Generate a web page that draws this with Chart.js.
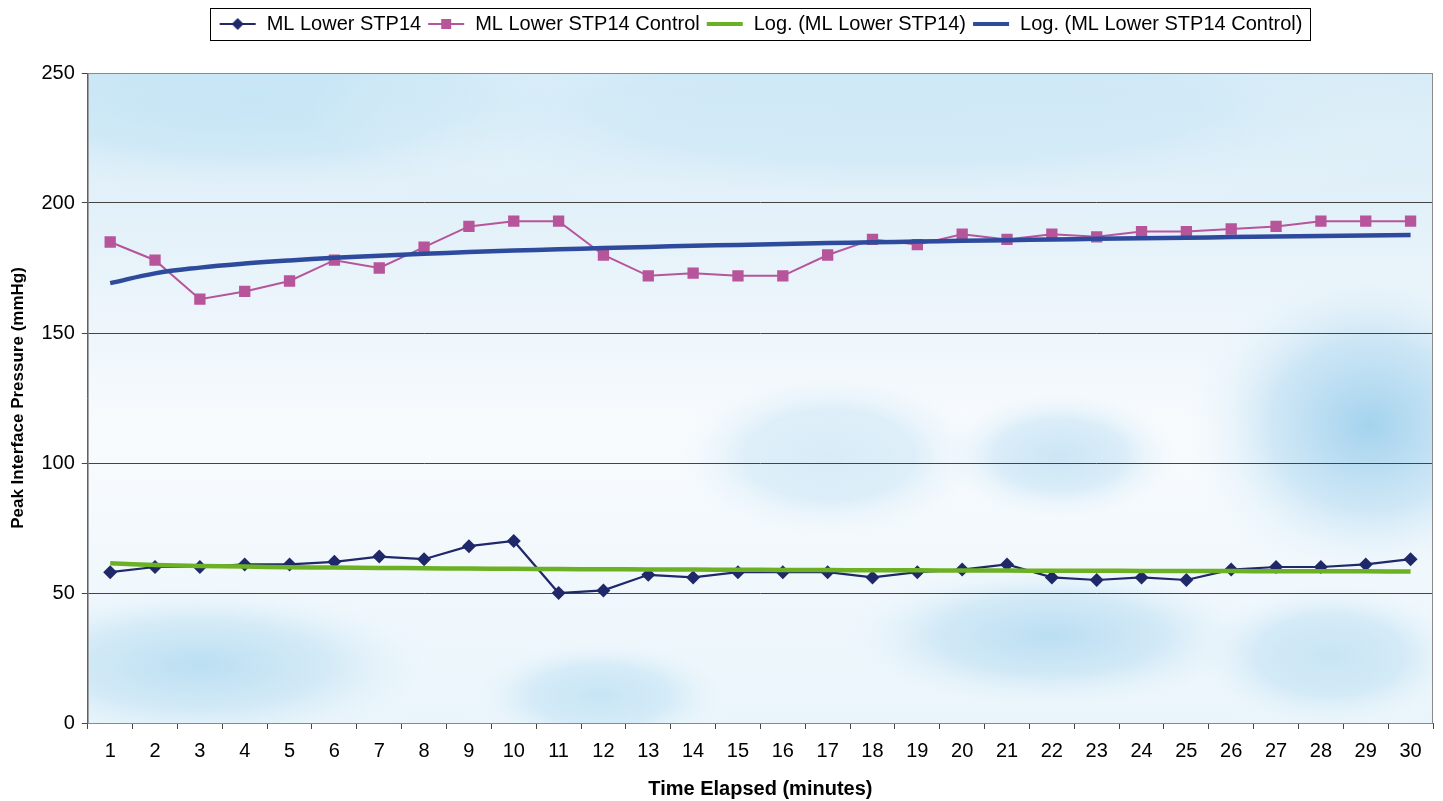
<!DOCTYPE html>
<html>
<head>
<meta charset="utf-8">
<title>Peak Interface Pressure</title>
<script src="https://cdn.jsdelivr.net/npm/chart.js@4.4.1/dist/chart.umd.min.js"></script>
<style>
    body { margin: 0; background: #fff; }
    #wrap { width: 1443px; height: 801px; position: relative; }
</style>
</head>
<body>
<div id="wrap"><canvas id="myChart"></canvas></div>
<script>
const minutes = ['1', '2', '3', '4', '5', '6', '7', '8', '9', '10', '11', '12', '13', '14', '15',
    '16', '17', '18', '19', '20', '21', '22', '23', '24', '25', '26', '27', '28', '29', '30'];
const lowerStp14 = [58, 60, 60, 61, 61, 62, 64, 63, 68, 70, 50, 51, 57, 56, 58,
    58, 58, 56, 58, 59, 61, 56, 55, 56, 55, 59, 60, 60, 61, 63];
const lowerStp14Control = [185, 178, 163, 166, 170, 178, 175, 183, 191, 193, 193, 180, 172, 173, 172,
    172, 180, 186, 184, 188, 186, 188, 187, 189, 189, 190, 191, 193, 193, 193];
const yTicks = [0, 50, 100, 150, 200, 250];

const navy = '#1f2868';
const pink = '#b7559b';
const green = '#6cb024';
const blue = '#2e4a9c';
const fontFamily = 'Liberation Sans, Arial, Helvetica, sans-serif';

// logarithmic trendline (least squares on ln x), like the spreadsheet does
function logTrend(values) {
    let n = values.length;
    let lx = values.map((v, i) => Math.log(i + 1));
    let mx = lx.reduce((a, b) => a + b, 0) / n;
    let my = values.reduce((a, b) => a + b, 0) / n;
    let sxy = 0, sxx = 0;
    for (var i = 0; i < n; i++) {
        sxy += (lx[i] - mx) * (values[i] - my);
        sxx += (lx[i] - mx) * (lx[i] - mx);
    }
    let b = sxy / sxx;
    let a = my - b * mx;
    return lx.map(x => a + b * x);
}

function legendIcon(color, marker) {
    const c = document.createElement('canvas');
    c.width = 38;
    c.height = 16;
    const g = c.getContext('2d');
    g.strokeStyle = color;
    g.lineWidth = marker ? 2 : 4;
    g.beginPath();
    g.moveTo(1, 8);
    g.lineTo(37, 8);
    g.stroke();
    g.fillStyle = color;
    if (marker === 'diamond') {
        g.beginPath();
        g.moveTo(19, 2); g.lineTo(25, 8); g.lineTo(19, 14); g.lineTo(13, 8);
        g.closePath();
        g.fill();
    } else if (marker === 'square') {
        g.fillRect(14, 3, 10, 10);
    }
    return c;
}

const icons = [
    legendIcon(navy, 'diamond'),
    legendIcon(pink, 'square'),
    legendIcon(green, null),
    legendIcon(blue, null)
];

// soft blue "cloud" blobs: x, y, radius x, radius y, colour
const blobs = [
    [250, 100, 420, 110, 'rgba(190,226,244,0.7)'],
    [900, 110, 600, 110, 'rgba(200,230,246,0.55)'],
    [200, 665, 260, 90, 'rgba(175,217,240,0.8)'],
    [600, 695, 140, 60, 'rgba(180,220,242,0.65)'],
    [830, 455, 170, 90, 'rgba(185,221,242,0.5)'],
    [1060, 455, 130, 70, 'rgba(175,216,240,0.6)'],
    [1050, 635, 230, 80, 'rgba(170,214,239,0.75)'],
    [1370, 425, 200, 170, 'rgba(150,204,235,0.85)'],
    [1330, 655, 150, 80, 'rgba(175,217,240,0.6)']
];

const cloudBackground = {
    id: 'cloudBackground',
    beforeDraw(chart) {
        const a = chart.chartArea;
        const ctx = chart.ctx;
        ctx.save();
        ctx.beginPath();
        ctx.rect(a.left, a.top, a.right - a.left, a.bottom - a.top);
        ctx.clip();
        const lg = ctx.createLinearGradient(0, a.top, 0, a.bottom);
        lg.addColorStop(0, '#d5ebf7');
        lg.addColorStop(0.3, '#e8f3fa');
        lg.addColorStop(0.55, '#f8fbfe');
        lg.addColorStop(1, '#eaf5fb');
        ctx.fillStyle = lg;
        ctx.fillRect(a.left, a.top, a.right - a.left, a.bottom - a.top);
        blobs.forEach(function(b) {
            ctx.save();
            ctx.translate(b[0], b[1]);
            ctx.scale(b[2] / b[3], 1);
            const rg = ctx.createRadialGradient(0, 0, 0, 0, 0, b[3]);
            rg.addColorStop(0, b[4]);
            rg.addColorStop(0.5, b[4].replace(/[\d.]+\)$/, '0.4)'));
            rg.addColorStop(1, 'rgba(255,255,255,0)');
            ctx.fillStyle = rg;
            ctx.beginPath();
            ctx.arc(0, 0, b[3], 0, Math.PI * 2);
            ctx.fill();
            ctx.restore();
        });
        ctx.restore();
    },
    afterDraw(chart) {
        const a = chart.chartArea;
        const ctx = chart.ctx;
        ctx.save();
        ctx.strokeStyle = '#8a8a8a';
        ctx.lineWidth = 1;
        ctx.strokeRect(a.left + 0.5, a.top + 0.5, a.right - a.left - 1, a.bottom - a.top);
        // box around legend
        const boxes = chart.legend.legendHitBoxes;
        if (boxes && boxes.length) {
            let l = Math.min(...boxes.map(b => b.left)) + legendShift;
            let r = Math.max(...boxes.map(b => b.left + b.width)) + legendShift;
            let t = Math.min(...boxes.map(b => b.top));
            let btm = Math.max(...boxes.map(b => b.top + b.height));
            ctx.strokeStyle = '#000';
            ctx.strokeRect(Math.round(l - 9) + 0.5, Math.round(t - 6) + 0.5, Math.round(r - l + 16), Math.round(btm - t + 12));
        }
        ctx.restore();
    }
};

// legend sits centred over the plot, not the canvas, with room below it
const legendShift = 40;
const legendGap = {
    id: 'legendGap',
    beforeInit(chart) {
        const fit = chart.legend.fit;
        chart.legend.fit = function() {
            fit.bind(chart.legend)();
            this.height += 29;
        };
        const draw = chart.legend.draw;
        chart.legend.draw = function() {
            this.ctx.save();
            this.ctx.translate(legendShift, 0);
            draw.apply(this, arguments);
            this.ctx.restore();
        };
    }
};

window.addEventListener('load', function() {
    chartLine();
});

function chartLine() {
    const ctx = document.getElementById('myChart');
    new Chart(ctx, {
        type: 'line',
        data: {
            labels: minutes,
            datasets: [{
                label: 'ML Lower STP14',
                data: lowerStp14,
                borderColor: navy,
                backgroundColor: navy,
                borderWidth: 2.2,
                pointStyle: 'rectRot',
                pointRadius: 7,
                pointBorderWidth: 0,
                order: 2
            }, {
                label: 'ML Lower STP14 Control',
                data: lowerStp14Control,
                borderColor: pink,
                backgroundColor: pink,
                borderWidth: 2,
                pointStyle: 'rect',
                pointRadius: 8,
                pointBorderWidth: 0,
                order: 2
            }, {
                label: 'Log. (ML Lower STP14)',
                data: logTrend(lowerStp14),
                borderColor: green,
                borderWidth: 4.5,
                pointRadius: 0,
                tension: 0.4,
                order: 1
            }, {
                label: 'Log. (ML Lower STP14 Control)',
                data: logTrend(lowerStp14Control),
                borderColor: blue,
                borderWidth: 4.5,
                pointRadius: 0,
                tension: 0.4,
                order: 1
            }]
        },
        options: {
            responsive: true,
            maintainAspectRatio: false,
            animation: false,
            layout: {
                padding: { left: 8, right: 10, top: 8, bottom: 0 }
            },
            plugins: {
                tooltip: { enabled: false },
                legend: {
                    position: 'top',
                    labels: {
                        usePointStyle: true,
                        pointStyleWidth: 38,
                        padding: 6,
                        color: '#000',
                        font: { family: fontFamily, size: 20 },
                        generateLabels: function(chart) {
                            return chart.data.datasets.map(function(ds, i) {
                                return {
                                    text: ds.label,
                                    pointStyle: icons[i],
                                    datasetIndex: i,
                                    hidden: false,
                                    lineWidth: 0,
                                    strokeStyle: 'transparent',
                                    fillStyle: 'transparent'
                                };
                            });
                        }
                    }
                }
            },
            scales: {
                x: {
                    offset: true,
                    grid: {
                        offset: true,
                        drawOnChartArea: false,
                        drawTicks: true,
                        tickLength: 6,
                        color: '#444'
                    },
                    border: { color: '#555' },
                    ticks: {
                        color: '#000',
                        padding: 10,
                        maxRotation: 0,
                        autoSkip: false,
                        font: { family: fontFamily, size: 20 }
                    },
                    title: {
                        display: true,
                        text: 'Time Elapsed (minutes)',
                        color: '#000',
                        padding: { top: 4, bottom: 0 },
                        font: { family: fontFamily, size: 20, weight: 'bold' }
                    }
                },
                y: {
                    min: 0,
                    max: 250,
                    afterBuildTicks: function(axis) {
                        axis.ticks = yTicks.map(v => ({ value: v }));
                    },
                    grid: {
                        color: '#444',
                        tickLength: 6
                    },
                    border: { color: '#555' },
                    ticks: {
                        color: '#000',
                        padding: 7,
                        font: { family: fontFamily, size: 20 }
                    },
                    title: {
                        display: true,
                        text: 'Peak Interface Pressure (mmHg)',
                        color: '#000',
                        padding: { top: 0, bottom: 6 },
                        font: { family: fontFamily, size: 17, weight: 'bold' }
                    }
                }
            }
        },
        plugins: [cloudBackground, legendGap]
    });
}
</script>
</body>
</html>
